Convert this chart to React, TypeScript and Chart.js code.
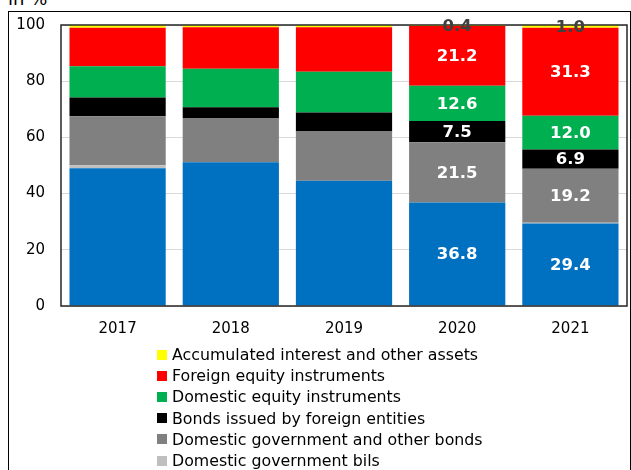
import React, { useEffect, useRef } from "react";
import { Chart, registerables } from "chart.js";

Chart.register(...registerables);

const categories = ["2017", "2018", "2019", "2020", "2021"];
const deposits = [49.0, 51.2, 44.6, 36.8, 29.4];
const govBills = [1.1, 0, 0, 0, 0.2];
const govBonds = [17.4, 15.7, 17.5, 21.5, 19.2];
const foreignBonds = [6.7, 3.8, 6.8, 7.5, 6.9];
const domEquity = [11.1, 13.7, 14.5, 12.6, 12.0];
const forEquity = [13.7, 14.8, 15.8, 21.2, 31.3];
const accrued = [1.0, 0.8, 0.8, 0.4, 1.0];
const labelledYears = ["2020", "2021"];
const yTicks = [0, 20, 40, 60, 80, 100];

const FONT = "'DejaVu Sans', Verdana, sans-serif";

const seriesDefs = [
  { label: "Deposits", data: deposits, color: "#0070C0", legend: false, showLabel: true, labelColor: "#ffffff" },
  { label: "Domestic government bils", data: govBills, color: "#BFBFBF", legend: true, showLabel: false, labelColor: "#ffffff" },
  { label: "Domestic government and other bonds", data: govBonds, color: "#808080", legend: true, showLabel: true, labelColor: "#ffffff" },
  { label: "Bonds issued by foreign entities", data: foreignBonds, color: "#000000", legend: true, showLabel: true, labelColor: "#ffffff" },
  { label: "Domestic equity instruments", data: domEquity, color: "#00B050", legend: true, showLabel: true, labelColor: "#ffffff" },
  { label: "Foreign equity instruments", data: forEquity, color: "#FF0000", legend: true, showLabel: true, labelColor: "#ffffff" },
  { label: "Accumulated interest and other assets", data: accrued, color: "#FFFF00", legend: true, showLabel: true, labelColor: "#404040" },
];

const framePlugin = {
  id: "frame",
  afterDatasetsDraw(chart: any) {
    const { ctx, chartArea } = chart;
    ctx.save();
    ctx.strokeStyle = "#262626";
    ctx.lineWidth = 1.5;
    ctx.strokeRect(chartArea.left, chartArea.top, chartArea.right - chartArea.left, chartArea.bottom - chartArea.top);
    ctx.restore();
  },
};

const labelPlugin = {
  id: "segLabels",
  afterDraw(chart: any) {
    const { ctx } = chart;
    ctx.save();
    ctx.font = `bold 16.5px ${FONT}`;
    ctx.textAlign = "center";
    ctx.textBaseline = "middle";
    chart.data.datasets.forEach((ds: any, di: number) => {
      const def = seriesDefs[di];
      if (!def.showLabel) return;
      const meta = chart.getDatasetMeta(di);
      categories.forEach((cat, i) => {
        if (!labelledYears.includes(cat)) return;
        const v = ds.data[i];
        if (!v) return;
        const el: any = meta.data[i];
        const cy = (el.y + el.base) / 2;
        ctx.fillStyle = def.labelColor;
        ctx.fillText(v.toFixed(1), el.x, cy + 1);
      });
    });
    ctx.restore();
  },
};

export default function App() {
  const canvasRef = useRef<HTMLCanvasElement | null>(null);

  useEffect(() => {
    if (!canvasRef.current) return;
    const chart = new Chart(canvasRef.current, {
      type: "bar",
      data: {
        labels: categories,
        datasets: seriesDefs.map((s) => ({
          label: s.label,
          data: s.data,
          backgroundColor: s.color,
          borderWidth: 0,
          barPercentage: 0.85,
          categoryPercentage: 1,
        })),
      },
      options: {
        responsive: false,
        animation: false,
        devicePixelRatio: 1,
        layout: { padding: { left: 0, right: 4, top: 24, bottom: 0 } },
        plugins: { legend: { display: false }, tooltip: { enabled: false } },
        scales: {
          x: {
            stacked: true,
            grid: { display: false, drawTicks: false },
            border: { display: false },
            ticks: { color: "#000", font: { family: FONT, size: 15 }, padding: 14 },
            afterFit: (s: any) => { s.height = 39; },
          },
          y: {
            stacked: true,
            min: 0,
            max: 100,
            afterBuildTicks: (s: any) => { s.ticks = yTicks.map((v) => ({ value: v })); },
            grid: { color: "#D9D9D9", lineWidth: 1, drawTicks: false },
            border: { display: false },
            ticks: { color: "#000", font: { family: FONT, size: 15 }, padding: 16 },
            afterFit: (s: any) => { s.width = 61; },
          },
        },
      },
      plugins: [framePlugin, labelPlugin],
    });
    return () => chart.destroy();
  }, []);

  const legendItems = seriesDefs.filter((s) => s.legend).slice().reverse();

  return (
    <div style={{ position: "absolute", left: 0, top: 0, width: 631, height: 470, overflow: "hidden", background: "#fff", fontFamily: FONT }}>
      <div style={{ position: "absolute", left: 8, top: 11, width: 623, height: 520, border: "1px solid #000", boxSizing: "border-box" }} />
      <div style={{ position: "absolute", left: 8, top: -10, fontSize: 18, lineHeight: "18px", color: "#000" }}>in %</div>
      <canvas ref={canvasRef} width={631} height={345} style={{ position: "absolute", left: 0, top: 0, width: 631, height: 345 }} />
      <div style={{ position: "absolute", left: 157, top: 344 }}>
        {legendItems.map((s) => (
          <div key={s.label} style={{ display: "flex", alignItems: "center", height: 21.2, fontSize: 15.8, color: "#000", whiteSpace: "nowrap" }}>
            <span style={{ display: "inline-block", width: 10, height: 10, background: s.color, marginRight: 5 }} />
            <span>{s.label}</span>
          </div>
        ))}
      </div>
    </div>
  );
}
